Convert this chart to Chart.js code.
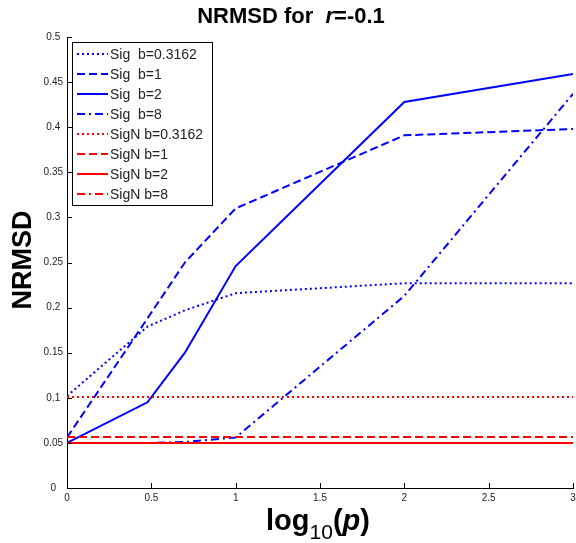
<!DOCTYPE html>
<html>
<head>
<meta charset="utf-8">
<script src="https://cdn.jsdelivr.net/npm/chart.js"></script>
<style>
  body { margin: 0; background: #fff; }
  #wrap { width: 576px; height: 543px; }
</style>
</head>
<body>
<div id="wrap"><canvas id="chartNrmsd" width="576" height="543"></canvas></div>
<script>
// log10(p) positions, p = 1, 3, 5, 10, 100, 1000
var logP = [0, 0.477, 0.699, 1, 2, 3];

// Sig series (blue)
var sigB03 = [0.102, 0.179, 0.197, 0.216, 0.227, 0.227];
var sigB1  = [0.056, 0.188, 0.25, 0.31, 0.391, 0.398];
var sigB2  = [0.05, 0.095, 0.15, 0.246, 0.428, 0.459];
var sigB8  = [0.05, 0.05, 0.051, 0.056, 0.213, 0.437];

// SigN series (red)
var signB03 = [0.101, 0.101, 0.101, 0.101, 0.101, 0.101];
var signB1  = [0.0565, 0.0565, 0.0565, 0.0565, 0.0565, 0.0565];
var signB2  = [0.05, 0.05, 0.05, 0.05, 0.05, 0.05];
var signB8  = [0.05, 0.05, 0.05, 0.05, 0.05, 0.05];

var labels = ['Sig  b=0.3162', 'Sig  b=1', 'Sig  b=2', 'Sig  b=8',
              'SigN b=0.3162', 'SigN b=1', 'SigN b=2', 'SigN b=8'];
var xTicks = [0, 0.5, 1, 1.5, 2, 2.5, 3];

var DOT = [2, 3], DASH = [8, 4], DASHDOT = [8, 4, 2, 4], SOLID = [];

function mk(label, ys, color, dash, order) {
  return {
    label: label,
    data: logP.map(function (x, i) { return { x: x, y: ys[i] }; }),
    borderColor: color,
    borderWidth: 2,
    borderDash: dash,
    pointRadius: 0,
    fill: false,
    tension: 0,
    order: order
  };
}

var datasets = [
  mk(labels[0], sigB03, '#0000ff', DOT, 2),
  mk(labels[1], sigB1, '#0000ff', DASH, 2),
  mk(labels[2], sigB2, '#0000ff', SOLID, 2),
  mk(labels[3], sigB8, '#0000ff', DASHDOT, 2),
  mk(labels[4], signB03, '#ff0000', DOT, 1),
  mk(labels[5], signB1, '#ff0000', DASH, 1),
  mk(labels[6], signB2, '#ff0000', SOLID, 1),
  mk(labels[7], signB8, '#ff0000', DASHDOT, 1)
];

// titles, inner tick marks and the boxed legend
var decor = {
  id: 'decor',
  afterDraw: function (chart) {
    var ctx = chart.ctx, a = chart.chartArea;
    var xs = chart.scales.x, ys = chart.scales.y;
    ctx.save();

    // tick marks pointing inwards
    ctx.strokeStyle = '#000';
    ctx.lineWidth = 1;
    ctx.setLineDash([]);
    ys.ticks.forEach(function (t) {
      var py = Math.round(ys.getPixelForValue(t.value)) + 0.5;
      ctx.beginPath(); ctx.moveTo(a.left, py); ctx.lineTo(a.left + 5, py); ctx.stroke();
    });
    xs.ticks.forEach(function (t) {
      var px = Math.round(xs.getPixelForValue(t.value)) + 0.5;
      ctx.beginPath(); ctx.moveTo(px, a.bottom); ctx.lineTo(px, a.bottom - 5); ctx.stroke();
    });

    ctx.fillStyle = '#000';
    ctx.textBaseline = 'alphabetic';
    ctx.textAlign = 'left';

    // title
    var f1 = 'bold 22px "Liberation Sans", Arial, sans-serif';
    var f2 = 'italic bold 22px "Liberation Sans", Arial, sans-serif';
    var parts = [['NRMSD for  ', f1], ['r', f2], ['=-0.1', f1]];
    var w = 0;
    parts.forEach(function (p) { ctx.font = p[1]; w += ctx.measureText(p[0]).width; });
    var x0 = 291 - w / 2;
    parts.forEach(function (p) { ctx.font = p[1]; ctx.fillText(p[0], x0, 23); x0 += ctx.measureText(p[0]).width; });

    // x axis title log10(p)
    var big = 'bold 29px "Liberation Sans", Arial, sans-serif';
    var bigI = 'italic bold 29px "Liberation Sans", Arial, sans-serif';
    var sub = '21px "Liberation Sans", Arial, sans-serif';
    var xp = [['log', big, 530], ['10', sub, 539], ['(', big, 530], ['p', bigI, 530], [')', big, 530]];
    w = 0;
    xp.forEach(function (p) { ctx.font = p[1]; w += ctx.measureText(p[0]).width; });
    x0 = 318 - w / 2;
    xp.forEach(function (p) { ctx.font = p[1]; ctx.fillText(p[0], x0, p[2]); x0 += ctx.measureText(p[0]).width; });

    // y axis title
    ctx.save();
    ctx.translate(31, 260);
    ctx.rotate(-Math.PI / 2);
    ctx.textAlign = 'center';
    ctx.font = 'bold 27px "Liberation Sans", Arial, sans-serif';
    ctx.fillText('NRMSD', 0, 0);
    ctx.restore();

    // legend
    var lx = 72.5, ly = 42.5, lw = 140, lh = 163;
    ctx.fillStyle = '#fff';
    ctx.fillRect(lx, ly, lw, lh);
    ctx.strokeStyle = '#000';
    ctx.lineWidth = 1;
    ctx.strokeRect(lx, ly, lw, lh);
    ctx.font = '14px "Liberation Sans", Arial, sans-serif';
    ctx.textBaseline = 'middle';
    chart.data.datasets.forEach(function (ds, i) {
      var ry = 54 + i * 20;
      ctx.strokeStyle = ds.borderColor;
      ctx.lineWidth = 2;
      ctx.setLineDash(ds.borderDash);
      ctx.beginPath(); ctx.moveTo(77, ry); ctx.lineTo(108, ry); ctx.stroke();
      ctx.setLineDash([]);
      ctx.fillStyle = '#222';
      ctx.fillText(ds.label, 110, ry + 1);
    });

    ctx.restore();
  }
};

new Chart(document.getElementById('chartNrmsd').getContext('2d'), {
  type: 'line',
  data: { datasets: datasets },
  options: {
    responsive: false,
    animation: false,
    layout: { padding: { left: 0, top: 37, right: 0, bottom: 0 } },
    plugins: { legend: { display: false }, title: { display: false }, tooltip: { enabled: false } },
    scales: {
      x: {
        type: 'linear',
        min: 0, max: 3,
        afterFit: function (s) { s.height = 55; s.paddingRight = 3; s.paddingLeft = 0; },
        afterBuildTicks: function (s) { s.ticks = xTicks.map(function (v) { return { value: v }; }); },
        grid: { display: false, drawTicks: false },
        border: { display: true, color: '#000', width: 1 },
        ticks: {
          padding: 4, color: '#222', maxRotation: 0,
          font: { family: '"Liberation Sans", Arial, sans-serif', size: 10 },
          callback: function (v) { return String(Number(v.toFixed(2))); }
        }
      },
      y: {
        min: 0, max: 0.5,
        afterFit: function (s) { s.width = 67; },
        grid: { display: false, drawTicks: false },
        border: { display: true, color: '#000', width: 1 },
        ticks: {
          stepSize: 0.05, padding: 4, crossAlign: 'center', color: '#222',
          font: { family: '"Liberation Sans", Arial, sans-serif', size: 10 },
          callback: function (v) { return String(Number(v.toFixed(2))); }
        }
      }
    }
  },
  plugins: [decor]
});
</script>
</body>
</html>
